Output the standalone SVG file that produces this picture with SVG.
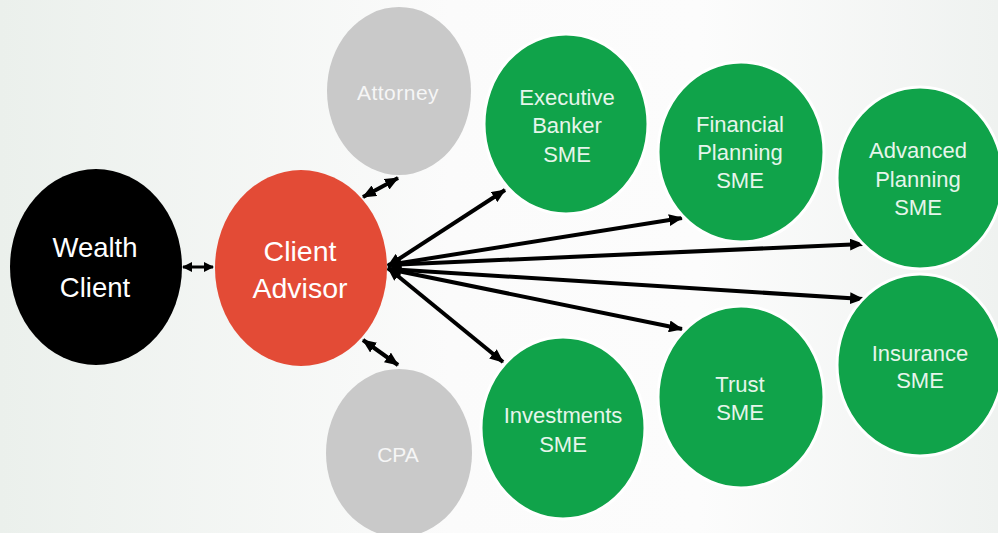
<svg xmlns="http://www.w3.org/2000/svg" width="998" height="533" viewBox="0 0 998 533">
<defs>
<linearGradient id="bg" x1="0" y1="0" x2="1" y2="0">
<stop offset="0" stop-color="#ebf0ec"/>
<stop offset="0.45" stop-color="#fbfbfb"/>
<stop offset="0.7" stop-color="#fcfcfc"/>
<stop offset="1" stop-color="#eff2f0"/>
</linearGradient>
<marker id="ah" viewBox="0 0 14 12" markerWidth="14" markerHeight="12" refX="13" refY="6" orient="auto-start-reverse" markerUnits="userSpaceOnUse">
<path d="M0,0 L14,6 L0,12 z" fill="#000"/>
</marker>
<marker id="ahs" viewBox="0 0 10 10" markerWidth="10" markerHeight="10" refX="9" refY="5" orient="auto-start-reverse" markerUnits="userSpaceOnUse">
<path d="M0,0 L10,5 L0,10 z" fill="#000"/>
</marker>
</defs>
<style>
.lbl{font-family:"Liberation Sans",Arial,sans-serif;text-anchor:middle}
.g{fill:#10a34a;stroke:#ffffff;stroke-width:3}
.gt{fill:#e6f5eb;font-size:22px}
.gr{fill:#c9c9c9}
.grt{fill:#f6f6f6;font-size:21px}
.big{fill:#ffffff}
.con{stroke:#000;stroke-width:4;fill:none;marker-start:url(#ah);marker-end:url(#ah)}
.cons{stroke:#000;stroke-width:3;fill:none;marker-start:url(#ahs);marker-end:url(#ahs)}
</style>
<rect x="0" y="0" width="998" height="533" fill="url(#bg)"/>

<g id="connectors">
<line class="cons" x1="183" y1="267" x2="213" y2="267"/>
<line class="con" x1="363" y1="197" x2="398" y2="178"/>
<line class="con" x1="363" y1="340" x2="398" y2="365"/>
<line class="con" x1="388" y1="266" x2="505" y2="190"/>
<line class="con" x1="388" y1="265" x2="682" y2="218"/>
<line class="con" x1="388" y1="265" x2="863" y2="244"/>
<line class="con" x1="388" y1="269" x2="863" y2="299"/>
<line class="con" x1="388" y1="269" x2="682" y2="329"/>
<line class="con" x1="388" y1="268" x2="503" y2="362"/>
</g>

<g id="wealth-client">
<ellipse cx="96" cy="267" rx="86" ry="98" fill="#000"/>
<text class="lbl big" font-size="27.5" x="95" y="257">Wealth</text>
<text class="lbl big" font-size="27.5" x="95" y="297">Client</text>
</g>

<g id="client-advisor">
<ellipse cx="301" cy="268" rx="86" ry="98" fill="#e34b36"/>
<text class="lbl big" font-size="28.5" x="300" y="261">Client</text>
<text class="lbl big" font-size="28.5" x="300" y="298">Advisor</text>
</g>

<g id="attorney">
<ellipse class="gr" cx="399" cy="91" rx="72" ry="84"/>
<text class="lbl grt" x="398" y="100" letter-spacing="0.5">Attorney</text>
</g>

<g id="cpa">
<ellipse class="gr" cx="399" cy="453" rx="73" ry="84"/>
<text class="lbl grt" x="398" y="462" font-size="20">CPA</text>
</g>

<g id="executive-banker">
<ellipse class="g" cx="566" cy="124" rx="82" ry="90"/>
<text class="lbl gt" x="567" y="105">Executive</text>
<text class="lbl gt" x="567" y="133">Banker</text>
<text class="lbl gt" x="567" y="162">SME</text>
</g>

<g id="financial-planning">
<ellipse class="g" cx="741" cy="152" rx="83" ry="90"/>
<text class="lbl gt" x="740" y="132">Financial</text>
<text class="lbl gt" x="740" y="160">Planning</text>
<text class="lbl gt" x="740" y="188">SME</text>
</g>

<g id="advanced-planning">
<ellipse class="g" cx="920" cy="178" rx="83" ry="91"/>
<text class="lbl gt" x="918" y="158">Advanced</text>
<text class="lbl gt" x="918" y="187">Planning</text>
<text class="lbl gt" x="918" y="215">SME</text>
</g>

<g id="investments">
<ellipse class="g" cx="563" cy="428" rx="82" ry="91"/>
<text class="lbl gt" x="563" y="423">Investments</text>
<text class="lbl gt" x="563" y="452">SME</text>
</g>

<g id="trust">
<ellipse class="g" cx="741" cy="397" rx="83" ry="91"/>
<text class="lbl gt" x="740" y="392">Trust</text>
<text class="lbl gt" x="740" y="420">SME</text>
</g>

<g id="insurance">
<ellipse class="g" cx="920" cy="365" rx="83" ry="91"/>
<text class="lbl gt" x="920" y="361">Insurance</text>
<text class="lbl gt" x="920" y="388">SME</text>
</g>
</svg>
